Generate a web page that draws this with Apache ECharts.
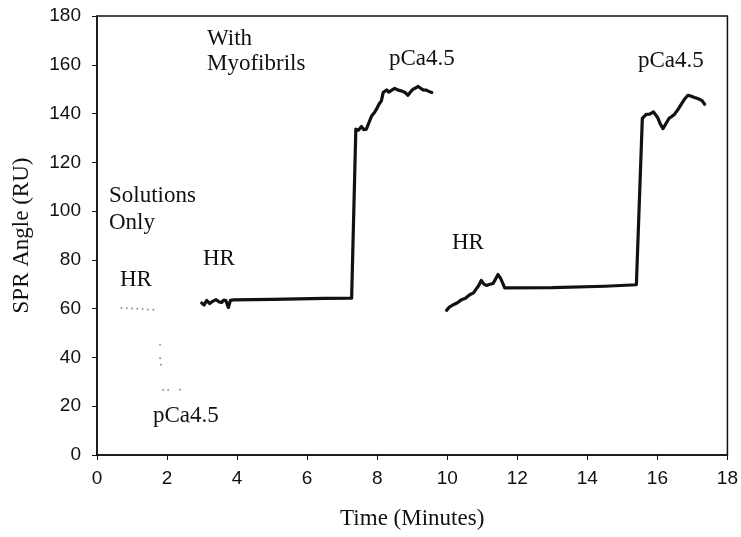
<!DOCTYPE html>
<html>
<head>
<meta charset="utf-8">
<script src="https://cdn.jsdelivr.net/npm/echarts@6/dist/echarts.min.js"></script>
<style>html,body{margin:0;padding:0;background:#fff;}#c{width:741px;height:537px;}</style>
</head>
<body>
<div id="c"></div>
<script>
// ---- data (time in minutes, SPR angle in RU) ----
const xTicks = [0, 2, 4, 6, 8, 10, 12, 14, 16, 18];
const yTicks = [0, 20, 40, 60, 80, 100, 120, 140, 160, 180];

// Solutions only (faint dotted trace)
const solutionsOnly = [
  [0.70, 60.3], [0.85, 60.2], [1.00, 60.1], [1.15, 60.0], [1.30, 59.9], [1.45, 59.7], [1.61, 59.6],
  [1.80, 45.2], [1.80, 39.7], [1.82, 37.0],
  [1.89, 26.7], [2.03, 26.7], [2.37, 26.8],
  [2.61, 13.5]
];

// With myofibrils, first run
const myofibrilRun1 = [
  [2.99, 62.3], [3.06, 61.5], [3.13, 63.4], [3.22, 62.1], [3.30, 63.0], [3.40, 63.7], [3.48, 62.8],
  [3.56, 62.6], [3.62, 63.5], [3.68, 63.3], [3.75, 60.5], [3.81, 63.4], [3.90, 63.6], [5.00, 63.8],
  [6.50, 64.2], [7.27, 64.3], [7.39, 133.6], [7.47, 133.2], [7.55, 134.7], [7.62, 133.4], [7.69, 133.6],
  [7.77, 136.5], [7.84, 139.0], [7.91, 140.2], [7.98, 141.8], [8.05, 143.8], [8.12, 145.2], [8.17, 148.6],
  [8.27, 149.7], [8.33, 148.8], [8.38, 148.4], [8.44, 149.8], [8.50, 150.3], [8.60, 149.6], [8.69, 149.3],
  [8.80, 148.6], [8.88, 147.5], [8.95, 148.8], [9.02, 150.0], [9.10, 150.5], [9.17, 151.1], [9.24, 150.4],
  [9.31, 149.7], [9.40, 149.6], [9.50, 148.9], [9.56, 148.6]
];

// With myofibrils, second run
const myofibrilRun2 = [
  [9.98, 59.3], [10.05, 60.5], [10.17, 61.6], [10.28, 62.3], [10.41, 63.7], [10.52, 64.3], [10.64, 65.7],
  [10.75, 66.5], [10.83, 68.1], [10.90, 69.5], [10.97, 71.6], [11.04, 70.2], [11.12, 69.5], [11.22, 70.0],
  [11.31, 70.3], [11.38, 72.2], [11.45, 74.0], [11.52, 72.5], [11.59, 70.3], [11.64, 68.5], [11.69, 68.1],
  [13.00, 68.6], [14.50, 69.2], [15.40, 69.8], [15.57, 138.0], [15.68, 139.7], [15.78, 139.8], [15.89, 140.7],
  [16.01, 138.3], [16.08, 135.8], [16.16, 133.8], [16.25, 136.0], [16.33, 138.0], [16.41, 138.8], [16.49, 139.7],
  [16.58, 141.5], [16.68, 143.8], [16.78, 146.0], [16.87, 147.5], [16.95, 147.2], [17.06, 146.6], [17.13, 146.3],
  [17.20, 145.9], [17.28, 145.2], [17.35, 143.8]
];

const chart = echarts.init(document.getElementById('c'), null, {renderer: 'canvas'});
const serif = '"Liberation Serif", "DejaVu Serif", serif';
const sans = '"Liberation Sans", Arial, sans-serif';
const annFont = 23;

function ann(text, x, baseline) {
  return {
    type: 'text', left: x, top: baseline - annFont * 0.89,
    style: {text: text, font: annFont + 'px ' + serif, fill: '#111'}
  };
}

chart.setOption({
  animation: false,
  backgroundColor: '#fff',
  grid: {left: 97, right: 13, top: 16, bottom: 82, show: true, borderColor: '#111', borderWidth: 1.5},
  xAxis: {
    type: 'value', min: xTicks[0], max: xTicks[xTicks.length - 1], interval: 2,
    name: 'Time (Minutes)', nameLocation: 'middle', nameGap: 52,
    nameTextStyle: {fontFamily: serif, fontSize: 23, color: '#111'},
    axisLine: {show: true, lineStyle: {color: '#111', width: 1.5}},
    axisTick: {show: true, inside: false, length: 5, lineStyle: {color: '#111'}},
    axisLabel: {fontFamily: sans, fontSize: 19, color: '#111', margin: 14},
    splitLine: {show: false}
  },
  yAxis: {
    type: 'value', min: yTicks[0], max: yTicks[yTicks.length - 1], interval: 20,
    name: 'SPR Angle (RU)', nameLocation: 'middle', nameGap: 64, nameRotate: 90,
    nameTextStyle: {fontFamily: serif, fontSize: 23, color: '#111'},
    axisLine: {show: true, lineStyle: {color: '#111', width: 1.5}},
    axisTick: {show: true, inside: false, length: 5, lineStyle: {color: '#111'}},
    axisLabel: {fontFamily: sans, fontSize: 19, color: '#111', margin: 16},
    splitLine: {show: false}
  },
  series: [
    {type: 'scatter', data: solutionsOnly, symbol: 'circle', symbolSize: 2,
     itemStyle: {color: '#777'}, silent: true},
    {type: 'line', data: myofibrilRun1, showSymbol: false, symbol: 'none',
     lineStyle: {color: '#111', width: 3.2, join: 'round', cap: 'round'}},
    {type: 'line', data: myofibrilRun2, showSymbol: false, symbol: 'none',
     lineStyle: {color: '#111', width: 3.2, join: 'round', cap: 'round'}}
  ],
  graphic: [
    ann('With', 207, 48),
    ann('Myofibrils', 207, 73),
    ann('pCa4.5', 389, 68),
    ann('pCa4.5', 638, 70),
    ann('Solutions', 109, 205),
    ann('Only', 109, 232),
    ann('HR', 120, 289),
    ann('HR', 203, 268),
    ann('HR', 452, 252),
    ann('pCa4.5', 153, 425)
  ]
});
</script>
</body>
</html>
